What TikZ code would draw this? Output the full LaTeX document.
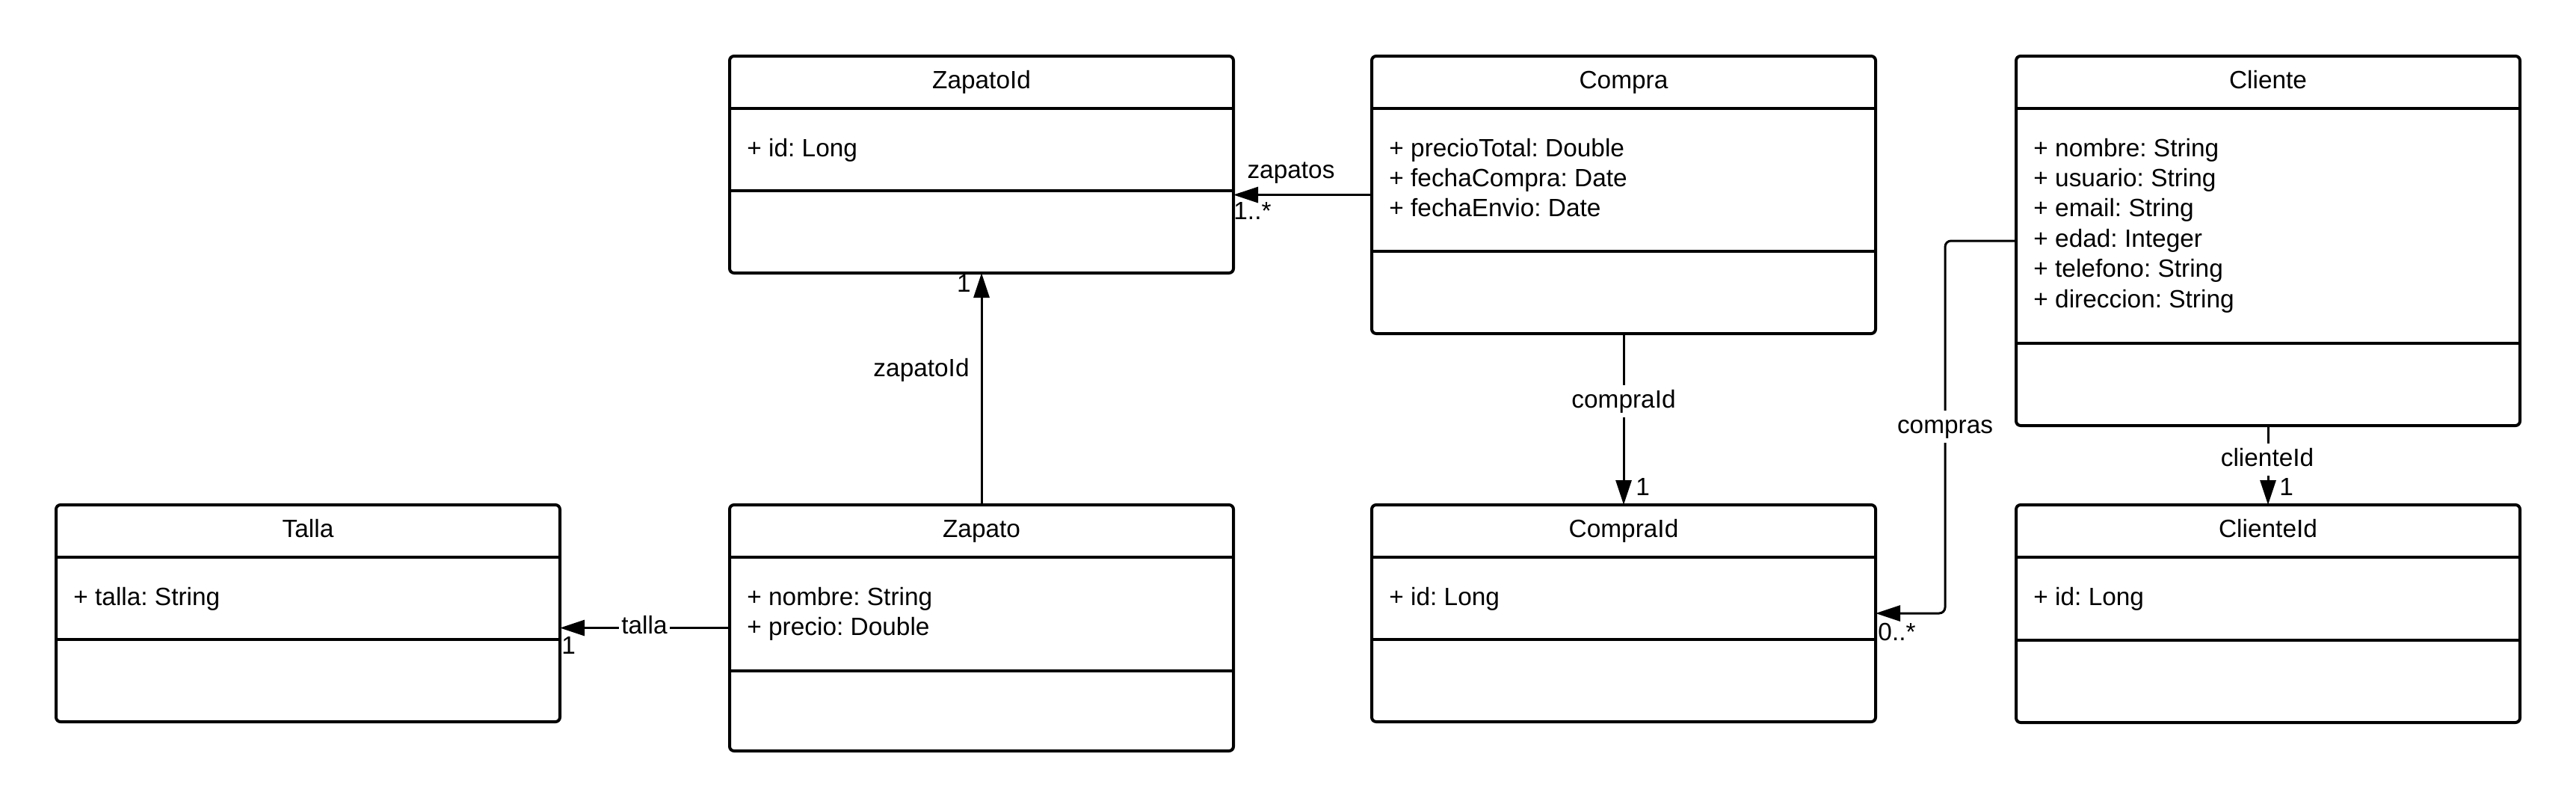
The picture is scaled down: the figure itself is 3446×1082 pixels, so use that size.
\documentclass[tikz,border=0pt]{standalone}
\usepackage{fontspec}
\setmainfont{Liberation Sans}
\usetikzlibrary{arrows.meta,calc}
\frenchspacing
\newcommand{\umlfont}{\fontsize{16.7pt}{20.2pt}\selectfont\frenchspacing}
\tikzset{
  classbox/.style={draw, line width=2pt, rounded corners=3pt, anchor=north west,
    inner sep=0pt, outer sep=0pt, minimum width=337pt},
  sepline/.style={line width=2pt},
  clstitle/.style={anchor=base, inner sep=0pt, font=\umlfont},
  clsattr/.style={anchor=base west, inner sep=0pt, font=\umlfont},
  conn/.style={line width=1.5pt, -{Triangle[length=16.5pt,width=10.5pt]}},
  lbl/.style={inner sep=0pt, font=\umlfont},
  lblw/.style={fill=white, inner xsep=1.5pt, inner ysep=2.5pt, text height=12.5pt,
    text depth=4pt, font=\umlfont, anchor=base},
}
% \umlcls{name}{left}{top}{height in pt}{separator y}{title}{attributes}
\newcommand{\umlcls}[7]{%
  \node[classbox, minimum height=#4] (#1) at (#2,#3) {};
  \draw[sepline] (#2,#3+70) -- (#2+674,#3+70);
  \draw[sepline] (#2,#5) -- (#2+674,#5);
  \node[clstitle] (#1-t) at (#2+337,#3+43) {#6};
  \foreach \a [count=\i] in {#7} {\node[clsattr] (#1-a\i) at (#2+23,{#3+134+(\i-1)*40.4}) {\a};}
}
\begin{document}
\begin{tikzpicture}[x=0.5pt,y=-0.5pt]
\useasboundingbox[fill=white] (0,0) rectangle (3446,1082);

\umlcls{ZapatoId}{976}{75}{145pt}{255}{ZapatoId}{+ id: Long}
\umlcls{Compra}{1835}{75}{185.5pt}{336}{Compra}{+ precioTotal: Double, + fechaCompra: Date, + fechaEnvio: Date}
\umlcls{Cliente}{2697}{75}{247pt}{459}{Cliente}{+ nombre: String, + usuario: String, + email: String, + edad: Integer, + telefono: String, + direccion: String}
\umlcls{Talla}{75}{675}{145pt}{855}{Talla}{+ talla: String}
\umlcls{Zapato}{976}{675}{164.5pt}{897}{Zapato}{+ nombre: String, + precio: Double}
\umlcls{CompraId}{1835}{675}{145pt}{855}{CompraId}{+ id: Long}
\umlcls{ClienteId}{2697}{675}{145.5pt}{856}{ClienteId}{+ id: Long}

% connectors
\draw[conn] (Compra.west) -- (Compra.west -| ZapatoId.east);
\draw[conn] (Zapato.north) -- (ZapatoId.south);
\draw[conn] (Zapato.west) -- (Zapato.west -| Talla.east);
\draw[conn] (Compra.south) -- (CompraId.north);
\draw[conn, rounded corners=4pt] (Cliente.west) -- ++(-95,0) |- (CompraId.east);
\draw[conn] (Cliente.south) -- (ClienteId.north);

% labels
\node[lbl, anchor=base] (l-zapatos) at (1727,238) {zapatos};
\node[lbl, anchor=base west] (m-zapatos) at (1650,293) {1..*};
\node[lbl, anchor=base east] (l-zapatoId) at (1297,503) {zapatoId};
\node[lbl, anchor=base east] (m-zapatoId) at (1299,390) {1};
\node[lblw] (l-talla) at (862,847) {talla};
\node[lbl, anchor=base west] (m-talla) at (751,874) {1};
\node[lblw] (l-compraId) at (2172,545) {compraId};
\node[lbl, anchor=base west] (m-compraId) at (2188,662) {1};
\node[lblw] (l-compras) at (2602,579) {compras};
\node[lbl, anchor=base west] (m-compras) at (2512,856) {0..*};
\node[lblw] (l-clienteId) at (3033,623) {clienteId};
\node[lbl, anchor=base west] (m-clienteId) at (3049,662) {1};
\end{tikzpicture}
\end{document}
